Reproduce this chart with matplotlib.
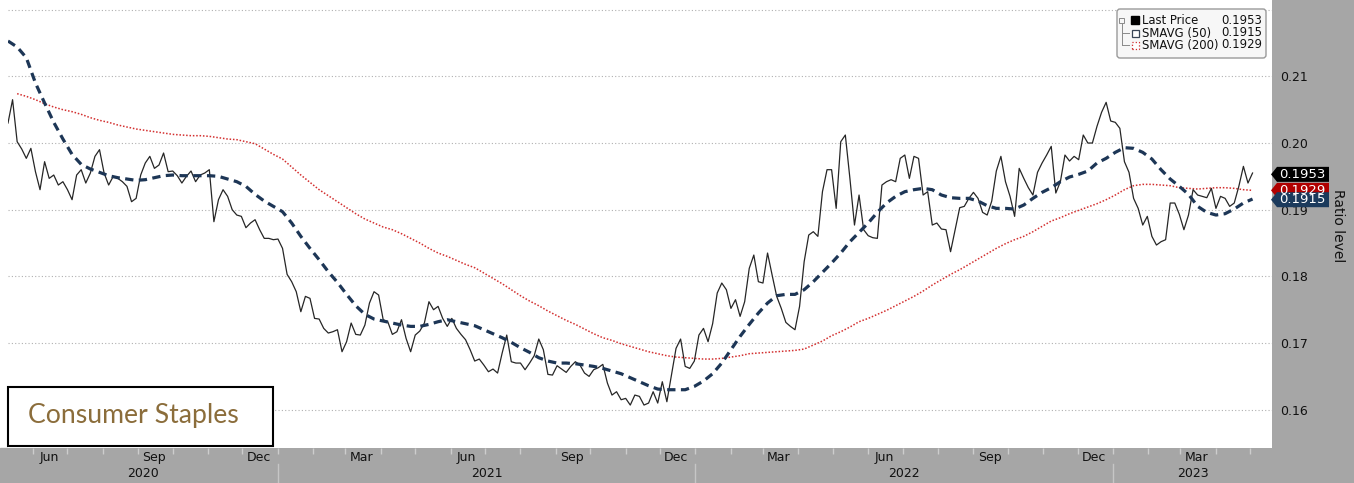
import numpy as np
import pandas as pd
import matplotlib
matplotlib.use('Agg')
import matplotlib.pyplot as plt
import matplotlib.dates as mdates
import matplotlib.transforms as mtransforms
from matplotlib.patches import Rectangle, Polygon, FancyBboxPatch
from matplotlib.lines import Line2D

# --- Data ---
# ratio, sampled every 4 days from 2020-05-10
price = [
    .2030, .2065, .2002, .1991, .1977, .1992, .1957, .1930, .1972, .1947,
    .1952, .1937, .1942, .1930, .1915, .1952, .1960, .1940, .1955, .1980,
    .1990, .1955, .1937, .1950, .1947, .1942, .1935, .1912, .1917, .1952,
    .1970, .1980, .1962, .1967, .1985, .1957, .1958, .1951, .1940, .1950,
    .1958, .1942, .1952, .1955, .1960, .1882, .1915, .1930, .1920, .1900,
    .1892, .1890, .1873, .1880, .1885, .1870, .1857, .1857, .1855, .1856,
    .1842, .1803, .1792, .1777, .1747, .1770, .1767, .1737, .1736, .1722,
    .1715, .1717, .1720, .1687, .1702, .1730, .1713, .1712, .1727, .1760,
    .1777, .1772, .1735, .1732, .1713, .1717, .1735, .1707, .1687, .1712,
    .1718, .1730, .1762, .1750, .1755, .1737, .1725, .1737, .1722, .1713,
    .1705, .1690, .1673, .1676, .1667, .1657, .1661, .1655, .1685, .1712,
    .1672, .1670, .1670, .1660, .1670, .1681, .1706, .1690, .1653, .1652,
    .1666, .1661, .1656, .1665, .1672, .1667, .1655, .1650, .1660, .1663,
    .1668, .1640, .1622, .1627, .1615, .1617, .1607, .1622, .1620, .1607,
    .1610, .1627, .1610, .1642, .1612, .1652, .1692, .1706, .1665, .1662,
    .1673, .1712, .1722, .1702, .1729, .1775, .1790, .1780, .1752, .1765,
    .1740, .1762, .1812, .1832, .1792, .1790, .1835, .1802, .1770, .1752,
    .1731, .1725, .1720, .1755, .1822, .1862, .1867, .1860, .1927, .1960,
    .1960, .1902, .2002, .2012, .1947, .1877, .1922, .1870, .1861, .1858,
    .1857, .1937, .1942, .1945, .1942, .1977, .1982, .1947, .1980, .1977,
    .1922, .1927, .1877, .1880, .1871, .1870, .1837, .1870, .1903, .1905,
    .1917, .1926, .1917, .1896, .1892, .1913, .1958, .1980, .1942, .1920,
    .1890, .1962, .1947, .1933, .1922, .1956, .1970, .1982, .1995, .1925,
    .1942, .1982, .1973, .1980, .1975, .2012, .2000, .2000, .2025, .2046,
    .2061, .2033, .2031, .2022, .1972, .1956, .1917, .1902, .1877, .1890,
    .1860, .1847, .1852, .1855, .1910, .1910, .1893, .1870, .1892, .1930,
    .1922, .1920, .1918, .1932, .1902, .1920, .1917, .1905, .1910, .1935,
    .1965, .1940, .1955,
]

# 50-day simple moving average, every 8 days from 2020-05-10
sma50 = [
    .2153, .2144, .2128, .2090, .2060, .2031, .2006, .1983, .1968, .1961,
    .1956, .1951, .1948, .1946, .1944, .1945, .1948, .1951, .1952, .1951,
    .1951, .1951, .1951, .1950, .1946, .1942, .1935, .1923, .1913, .1905,
    .1897, .1880, .1860, .1842, .1825, .1807, .1791, .1773, .1756, .1743,
    .1736, .1733, .1730, .1727, .1725, .1725, .1728, .1732, .1735, .1732,
    .1729, .1726, .1720, .1714, .1708, .1701, .1693, .1686, .1678, .1673,
    .1670, .1670, .1669, .1667, .1665, .1662, .1658, .1654, .1648, .1642,
    .1636, .1631, .1630, .1630, .1630, .1635, .1643, .1654, .1670, .1690,
    .1710, .1728, .1745, .1760, .1771, .1773, .1773, .1780, .1792, .1806,
    .1820, .1835, .1852, .1866, .1880, .1896, .1910, .1920, .1927, .1930,
    .1932, .1930, .1922, .1918, .1917, .1917, .1913, .1906, .1902, .1902,
    .1901, .1907, .1917, .1926, .1933, .1942, .1949, .1953, .1958, .1970,
    .1977, .1986, .1993, .1992, .1986, .1976, .1960, .1946, .1935, .1923,
    .1905, .1896, .1892, .1894, .1901, .1910, .1916,
]

# 200-day simple moving average, every 8 days from 2020-05-18
sma200 = [
    .2074, .2070, .2065, .2059, .2054, .2050, .2047, .2043, .2038, .2034,
    .2031, .2027, .2024, .2021, .2019, .2017, .2015, .2013, .2012, .2011,
    .2011, .2010, .2008, .2006, .2005, .2002, .1999, .1991, .1983, .1976,
    .1964, .1952, .1941, .1930, .1921, .1912, .1903, .1894, .1886, .1880,
    .1874, .1870, .1864, .1857, .1850, .1842, .1835, .1830, .1824, .1818,
    .1813, .1805, .1797, .1789, .1780, .1771, .1763, .1756, .1748, .1741,
    .1734, .1728, .1721, .1714, .1708, .1704, .1699, .1695, .1691, .1687,
    .1684, .1681, .1679, .1678, .1677, .1676, .1676, .1677, .1679, .1681,
    .1684, .1685, .1686, .1687, .1688, .1689, .1691, .1697, .1703, .1711,
    .1717, .1724, .1732, .1737, .1743, .1749, .1756, .1763, .1770, .1778,
    .1787, .1795, .1803, .1810, .1818, .1826, .1834, .1842, .1849, .1855,
    .1860, .1867, .1875, .1883, .1888, .1894, .1899, .1904, .1909, .1915,
    .1922, .1930, .1936, .1938, .1938, .1937, .1936, .1933, .1932, .1931,
    .1932, .1933, .1933, .1932, .1930, .1929,
]

price_dates = pd.date_range('2020-05-10', periods=len(price), freq='4D')
sma50_dates = pd.date_range('2020-05-10', periods=len(sma50), freq='8D')
sma200_dates = pd.date_range('2020-05-18', periods=len(sma200), freq='8D')

legend_names = ['Last Price', 'SMAVG (50)', 'SMAVG (200)']
last_values = [0.1953, 0.1915, 0.1929]
y_ticks = [0.16, 0.17, 0.18, 0.19, 0.20, 0.21, 0.22]
y_labels = ['0.16', '0.17', '0.18', '0.19', '0.20', '0.21', '']
x_start, x_end = pd.Timestamp('2020-05-10'), pd.Timestamp('2023-05-20')
title = 'Consumer Staples'

# --- Colours ---
C_PRICE = '#262626'
C_SMA50 = '#1d3656'
C_SMA200 = '#d32f2f'
C_STRIP = '#a6a6a6'
C_TITLE = '#8b6d3b'

W, H = 1354, 483
fig = plt.figure(figsize=(W / 100, H / 100), dpi=100)
fig.patch.set_facecolor('white')
ident = mtransforms.IdentityTransform()


def fx(px):
    return px / W


def fy(py):
    return 1 - py / H


# grey axis strips (bottom dates, right values)
fig.add_artist(Rectangle((0, 0), 1, fy(448), transform=fig.transFigure,
                         color=C_STRIP, zorder=-2))
fig.add_artist(Rectangle((fx(1272), 0), 1 - fx(1272), 1, transform=fig.transFigure,
                         color=C_STRIP, zorder=-2))

ax = fig.add_axes([fx(8), fy(448), fx(1272) - fx(8), 448 / H])
ax.set_facecolor('white')
for s in ax.spines.values():
    s.set_visible(False)

ax.plot(sma200_dates, sma200, color=C_SMA200, lw=1.1, ls=(0, (1, 1.2)), zorder=2)
ax.plot(price_dates, price, color=C_PRICE, lw=0.9, zorder=3)
ax.plot(sma50_dates, sma50, color=C_SMA50, lw=2.3, dashes=(2.6, 1.7), zorder=4)

ax.set_xlim(x_start, x_end)
ax.set_ylim(0.15426, 0.22145)

# y axis on the right
ax.set_yticks(y_ticks)
ax.set_yticklabels(y_labels)
ax.yaxis.tick_right()
ax.tick_params(axis='y', length=0, pad=6, labelsize=9, labelcolor='#111111')
ax.yaxis.grid(True, color='#b0b0b0', ls=(0, (1, 2)), lw=0.8)
ax.set_axisbelow(True)

# x axis: month ticks, quarter month labels, years below
ax.xaxis.set_major_locator(mdates.MonthLocator())
ax.xaxis.set_major_formatter(plt.NullFormatter())
ax.xaxis.set_minor_locator(mdates.MonthLocator(bymonth=[3, 6, 9, 12], bymonthday=15))
ax.xaxis.set_minor_formatter(mdates.DateFormatter('%b'))
ax.tick_params(axis='x', which='major', length=4, width=1, color='#cdcdcd', direction='out')
ax.tick_params(axis='x', which='minor', length=0, pad=2, labelsize=9, labelcolor='#111111')

blend = mtransforms.blended_transform_factory(ax.transData, ax.transAxes)
for yr in range(x_start.year, x_end.year + 1):
    lo = max(pd.Timestamp(f'{yr}-01-01'), x_start)
    hi = min(pd.Timestamp(f'{yr + 1}-01-01'), x_end)
    mid = lo + (hi - lo) / 2
    ax.text(mdates.date2num(mid), -0.056, str(yr), transform=blend,
            ha='center', va='center', fontsize=9, color='#111111')
    if yr > x_start.year:
        d = mdates.date2num(pd.Timestamp(f'{yr}-01-01'))
        ax.plot([d, d], [-0.036, -0.08], transform=blend, clip_on=False,
                color='#c6c6c6', lw=1)

# last-value tags on the right axis
tag_colors = {'Last Price': '#000000', 'SMAVG (50)': '#1b3a5c', 'SMAVG (200)': '#b00000'}
for name in ['SMAVG (200)', 'Last Price', 'SMAVG (50)']:
    val = last_values[legend_names.index(name)]
    yc = ax.transData.transform((0, val))[1]
    x0 = 1271
    verts = [(x0, yc), (x0 + 6, yc + 7.5), (x0 + 58, yc + 7.5),
             (x0 + 58, yc - 7.5), (x0 + 6, yc - 7.5)]
    fig.add_artist(Polygon(verts, closed=True, transform=ident,
                           fc=tag_colors[name], ec='none', zorder=5))
    fig.text(fx(x0 + 8), yc / H, f'{val:.4f}', color='white', fontsize=9.5,
             ha='left', va='center', zorder=6)

fig.text(fx(1338), fy(226), 'Ratio level', rotation=270, ha='center', va='center',
         fontsize=10, color='#111111')

# legend box (top right)
fig.add_artist(FancyBboxPatch((1117, H - 58), 149, 49, transform=ident,
                              boxstyle='round,pad=0,rounding_size=3',
                              fc='#f7f7f7', ec='#9a9a9a', lw=1, zorder=7))
rows_y = [20, 33, 45]
for name, val, ry in zip(legend_names, last_values, rows_y):
    fig.text(fx(1142), fy(ry), name, fontsize=8.4, ha='left', va='center',
             color='#111111', zorder=8)
    fig.text(fx(1262), fy(ry), f'{val:.4f}', fontsize=8.4, ha='right', va='center',
             color='#111111', zorder=8)
# legend icons
fig.add_artist(Rectangle((1131, H - rows_y[0] - 4), 8, 8, transform=ident,
                         fc='black', ec='black', zorder=8))
fig.add_artist(Rectangle((1132, H - rows_y[1] - 3.5), 7, 7, transform=ident,
                         fc='white', ec='#3a4656', lw=0.9, zorder=8))
fig.add_artist(Rectangle((1132, H - rows_y[2] - 3.5), 7, 7, transform=ident,
                         fc='white', ec='#d03030', lw=0.9, ls=':', zorder=8))
# little tree connector
tree = '#8a8a8a'
fig.add_artist(Rectangle((1119, H - rows_y[0] - 2.5), 5, 5, transform=ident,
                         fc='none', ec=tree, lw=0.7, zorder=8))
fig.add_artist(Line2D([1121.5, 1121.5], [H - rows_y[0] - 2.5, H - rows_y[2]],
                      transform=ident, color=tree, lw=0.7, zorder=8))
for ry in rows_y[1:]:
    fig.add_artist(Line2D([1121.5, 1129], [H - ry, H - ry], transform=ident,
                          color=tree, lw=0.7, zorder=8))

# title box (bottom left)
fig.add_artist(Rectangle((fx(8), fy(446)), fx(273) - fx(8), (446 - 387) / H,
                         transform=fig.transFigure, fc='white', ec='black',
                         lw=1.5, zorder=7))
fig.text(fx(28), fy(415), title, fontsize=19.2, family=['Lato', 'DejaVu Sans'],
         color=C_TITLE, ha='left', va='center', zorder=8)

fig.savefig('out.png', dpi=100, facecolor='white')
